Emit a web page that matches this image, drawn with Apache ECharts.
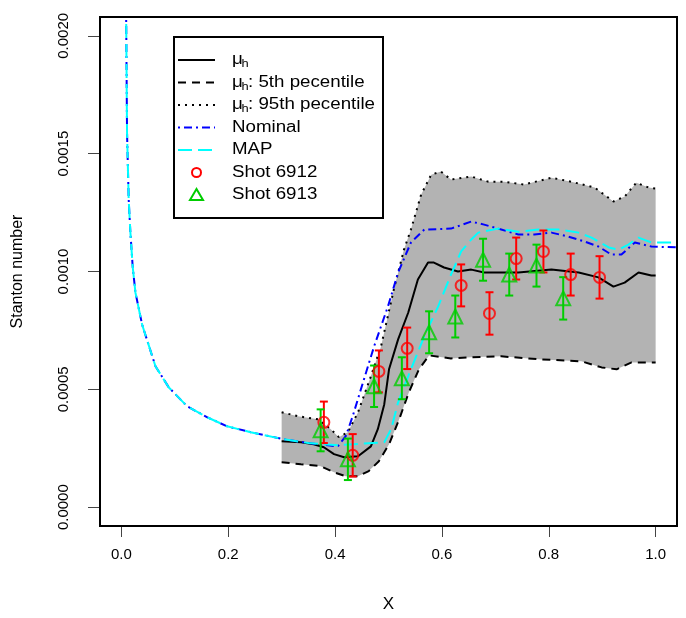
<!DOCTYPE html>
<html>
<head>
<meta charset="utf-8">
<script src="https://cdn.jsdelivr.net/npm/echarts@6/dist/echarts.min.js"></script>
<style>html,body{margin:0;padding:0;background:#fff;}#c{width:686px;height:618px;}</style>
</head>
<body>
<div id="c"></div>
<script>
// ---- data ----
const xTicks = [0, 0.2, 0.4, 0.6, 0.8, 1.0];
const yTicks = [0, 0.0005, 0.0010, 0.0015, 0.0020];

// shared decaying part (Nominal & MAP overlap)
const decayX = [0.0085, 0.0106, 0.0137, 0.0169, 0.0212, 0.0263, 0.0388, 0.0638, 0.0888, 0.123, 0.161, 0.198, 0.242, 0.304];
const decayY = [0.00222, 0.00159, 0.001305, 0.001165, 0.00102, 0.000911, 0.000775, 0.000598, 0.000508, 0.000428, 0.000381, 0.000343, 0.000318, 0.000288];

const nominalTailX = [0.35, 0.405, 0.420, 0.433, 0.454, 0.473, 0.499, 0.518, 0.542, 0.567, 0.617, 0.655, 0.679, 0.711, 0.743, 0.773, 0.805, 0.837, 0.867, 0.893, 0.917, 0.936, 0.961, 0.992, 1.043];
const nominalTailY = [0.000272, 0.000258, 0.000301, 0.000386, 0.000542, 0.000682, 0.000852, 0.000996, 0.001123, 0.001178, 0.001182, 0.001212, 0.001199, 0.001178, 0.001157, 0.001157, 0.001165, 0.001148, 0.001127, 0.001106, 0.001072, 0.001072, 0.001123, 0.001106, 0.001102];

const mapTailX = [0.35, 0.405, 0.492, 0.505, 0.518, 0.542, 0.567, 0.593, 0.617, 0.636, 0.655, 0.668, 0.705, 0.743, 0.780, 0.818, 0.856, 0.880, 0.912, 0.931, 0.949, 0.968, 0.992, 1.043];
const mapTailY = [0.000272, 0.000263, 0.000275, 0.000331, 0.000445, 0.000585, 0.000725, 0.000852, 0.000987, 0.001085, 0.001136, 0.001165, 0.001182, 0.001169, 0.001178, 0.001178, 0.001165, 0.001144, 0.001102, 0.001093, 0.001114, 0.001144, 0.001123, 0.001123];

const muX = [0.300, 0.336, 0.360, 0.379, 0.398, 0.417, 0.443, 0.467, 0.480, 0.492, 0.501, 0.518, 0.537, 0.555, 0.574, 0.585, 0.604, 0.630, 0.655, 0.679, 0.743, 0.805, 0.856, 0.893, 0.921, 0.942, 0.968, 0.992, 1.000];
const muY = [0.000280, 0.000275, 0.000267, 0.000254, 0.000225, 0.000212, 0.000216, 0.000258, 0.000331, 0.000436, 0.000585, 0.000712, 0.000826, 0.000966, 0.001038, 0.001038, 0.001017, 0.001000, 0.001008, 0.000996, 0.000996, 0.001008, 0.000996, 0.000975, 0.000936, 0.000953, 0.000996, 0.000983, 0.000983];

const p5X = [0.300, 0.336, 0.373, 0.398, 0.420, 0.443, 0.463, 0.482, 0.501, 0.520, 0.538, 0.557, 0.576, 0.617, 0.655, 0.711, 0.786, 0.861, 0.899, 0.927, 0.955, 1.000];
const p5Y = [0.000191, 0.000182, 0.000174, 0.000148, 0.000131, 0.000131, 0.000153, 0.000195, 0.000267, 0.000373, 0.000487, 0.000585, 0.000644, 0.000631, 0.000636, 0.000640, 0.000627, 0.000619, 0.000593, 0.000585, 0.000614, 0.000614];

const p95X = [0.300, 0.330, 0.368, 0.392, 0.407, 0.424, 0.443, 0.467, 0.486, 0.510, 0.529, 0.542, 0.561, 0.580, 0.598, 0.617, 0.655, 0.687, 0.717, 0.754, 0.805, 0.842, 0.886, 0.921, 0.942, 0.964, 0.987, 1.000];
const p95Y = [0.000403, 0.000386, 0.000373, 0.000331, 0.000297, 0.000318, 0.000403, 0.000555, 0.000682, 0.000924, 0.001093, 0.001178, 0.001326, 0.001411, 0.001424, 0.001390, 0.001403, 0.001381, 0.001381, 0.001369, 0.001398, 0.001381, 0.001356, 0.001297, 0.001318, 0.001377, 0.001356, 0.001352];

const shot6912X = [0.379, 0.433, 0.482, 0.535, 0.636, 0.689, 0.739, 0.790, 0.841, 0.895];
const shot6912Y = [0.000360, 0.000220, 0.000576, 0.000674, 0.000941, 0.000822, 0.001055, 0.001085, 0.000987, 0.000975];
const shot6912Err = [0.000088, 0.000090, 0.000089, 0.000088, 0.000089, 0.000090, 0.000089, 0.000089, 0.000089, 0.000090];

const shot6913X = [0.373, 0.424, 0.473, 0.525, 0.576, 0.625, 0.677, 0.726, 0.777, 0.827];
const shot6913Y = [0.000326, 0.000203, 0.000513, 0.000547, 0.000742, 0.000809, 0.001050, 0.000987, 0.001025, 0.000886];
const shot6913Err = [0.000089, 0.000088, 0.000088, 0.000089, 0.000089, 0.000089, 0.000089, 0.000089, 0.000089, 0.000090];

// ---- build ----
const zip = (xs, ys) => xs.map((x, i) => [x, ys[i]]);
const nominalData = zip(decayX.concat(nominalTailX), decayY.concat(nominalTailY));
const mapData = zip(decayX.concat(mapTailX), decayY.concat(mapTailY));
const FONT = "'Liberation Sans', Arial, Helvetica, sans-serif";
const RED = '#ff0000', GREEN = '#00cd00', BLUE = '#0000ff', CYAN = '#00ffff';

function errSeries(xs, ys, es, color) {
  return {
    type: 'custom', z: 5,
    data: xs.map((x, i) => [x, ys[i] - es[i], ys[i] + es[i]]),
    encode: { x: 0, y: [1, 2] },
    renderItem: function (params, api) {
      const x = api.value(0);
      const a = api.coord([x, api.value(1)]);
      const b = api.coord([x, api.value(2)]);
      const st = { stroke: color, lineWidth: 2 };
      const w = 4;
      return { type: 'group', children: [
        { type: 'line', shape: { x1: a[0], y1: a[1], x2: b[0], y2: b[1] }, style: st },
        { type: 'line', shape: { x1: a[0] - w, y1: a[1], x2: a[0] + w, y2: a[1] }, style: st },
        { type: 'line', shape: { x1: b[0] - w, y1: b[1], x2: b[0] + w, y2: b[1] }, style: st }
      ]};
    }
  };
}

const chart = echarts.init(document.getElementById('c'), null, { renderer: 'canvas' });

// legend via graphic
const LX = 174, LY = 37, LW = 209, LH = 181;
const rowY = [60, 82.5, 105, 127.5, 150, 172.5, 195];
const lx1 = 178, lx2 = 215, tx = 232, fs = 16, SX = 1.17;
const leg = [
  { type: 'rect', shape: { x: LX, y: LY, width: LW, height: LH }, style: { fill: '#fff', stroke: '#000', lineWidth: 2 }, z: 100 }
];
const lineStyles = [
  { stroke: '#000', lineDash: null },
  { stroke: '#000', lineDash: [8, 6] },
  { stroke: '#000', lineDash: [2, 5] },
  { stroke: BLUE, lineDash: [2, 4, 8, 4] },
  { stroke: CYAN, lineDash: [14, 6] }
];
lineStyles.forEach((s, i) => {
  leg.push({ type: 'line', z: 101, shape: { x1: lx1, y1: rowY[i], x2: lx2, y2: rowY[i] }, style: { stroke: s.stroke, lineWidth: 2, lineDash: s.lineDash } });
});
function legText(x, y, t, size) {
  return { type: 'text', z: 101, x: x, y: y, scaleX: SX, style: { text: t, font: size + 'px ' + FONT, fill: '#000', verticalAlign: 'middle', textVerticalAlign: 'middle' } };
}
const muLabels = ['', ': 5th pecentile', ': 95th pecentile'];
muLabels.forEach((t, i) => {
  leg.push(legText(tx, rowY[i], 'μ', fs));
  leg.push(legText(tx + 9.5, rowY[i] + 4, 'h', 11));
  if (t) leg.push(legText(tx + 16, rowY[i], t, fs));
});
['Nominal', 'MAP', 'Shot 6912', 'Shot 6913'].forEach((t, k) => {
  leg.push(legText(tx, rowY[k + 3], t, fs));
});
const mx = (lx1 + lx2) / 2;
leg.push({ type: 'circle', z: 101, shape: { cx: mx, cy: rowY[5], r: 4.5 }, style: { fill: 'none', stroke: RED, lineWidth: 2 } });
leg.push({ type: 'polygon', z: 101, shape: { points: [[mx, rowY[6] - 6], [mx - 6.5, rowY[6] + 5], [mx + 6.5, rowY[6] + 5]] }, style: { fill: 'none', stroke: GREEN, lineWidth: 2 } });

const option = {
  backgroundColor: '#fff',
  animation: false,
  grid: { left: 100, top: 17, width: 577, height: 510, show: true, borderColor: '#000', borderWidth: 2, backgroundColor: 'transparent', z: 10 },
  xAxis: {
    type: 'value', min: -0.04, max: 1.04,
    name: 'X', nameLocation: 'middle', nameGap: 70,
    nameTextStyle: { fontSize: 17, fontFamily: FONT, color: '#000' },
    axisLine: { show: false, onZero: false },
    axisTick: { show: true, length: 11, customValues: xTicks, lineStyle: { color: '#444', width: 1 } },
    axisLabel: { customValues: xTicks, formatter: v => v.toFixed(1), fontSize: 15, fontFamily: FONT, color: '#000', margin: 21 },
    splitLine: { show: false }
  },
  yAxis: {
    type: 'value', min: -0.00008, max: 0.00208,
    name: 'Stanton number', nameLocation: 'middle', nameGap: 74,
    nameTextStyle: { fontSize: 16, fontFamily: FONT, color: '#000' },
    axisLine: { show: false, onZero: false },
    axisTick: { show: true, length: 12, customValues: yTicks, lineStyle: { color: '#444', width: 1 } },
    axisLabel: { customValues: yTicks, formatter: v => v.toFixed(4), rotate: 90, fontSize: 15, fontFamily: FONT, color: '#000', margin: 29 },
    splitLine: { show: false }
  },
  graphic: leg,
  series: [
    {
      type: 'custom', z: 1, clip: true,
      data: [[0.5, 0.001]],
      renderItem: function (params, api) {
        const pts = [];
        p95X.forEach((x, i) => pts.push(api.coord([x, p95Y[i]])));
        for (let i = p5X.length - 1; i >= 0; i--) pts.push(api.coord([p5X[i], p5Y[i]]));
        return { type: 'polygon', shape: { points: pts }, style: { fill: '#b3b3b3' } };
      }
    },
    { type: 'line', z: 2, data: zip(p5X, p5Y), showSymbol: false, symbol: 'none', lineStyle: { color: '#000', width: 2, type: [8, 6] } },
    { type: 'line', z: 2, data: zip(p95X, p95Y), showSymbol: false, symbol: 'none', lineStyle: { color: '#000', width: 2, type: [2, 5] } },
    { type: 'line', z: 3, data: zip(muX, muY), showSymbol: false, symbol: 'none', lineStyle: { color: '#000', width: 2 } },
    { type: 'line', z: 3, data: nominalData, showSymbol: false, symbol: 'none', clip: true, lineStyle: { color: BLUE, width: 2, type: [2, 4, 8, 4] } },
    { type: 'line', z: 4, data: mapData, showSymbol: false, symbol: 'none', clip: true, lineStyle: { color: CYAN, width: 2, type: [14, 6] } },
    errSeries(shot6912X, shot6912Y, shot6912Err, RED),
    { type: 'scatter', z: 6, data: zip(shot6912X, shot6912Y), symbol: 'circle', symbolSize: 11, itemStyle: { color: 'rgba(0,0,0,0)', borderColor: RED, borderWidth: 2 } },
    errSeries(shot6913X, shot6913Y, shot6913Err, GREEN),
    { type: 'scatter', z: 7, data: zip(shot6913X, shot6913Y), symbol: 'triangle', symbolSize: 14, itemStyle: { color: 'rgba(0,0,0,0)', borderColor: GREEN, borderWidth: 2 } }
  ]
};
chart.setOption(option);
</script>
</body>
</html>
